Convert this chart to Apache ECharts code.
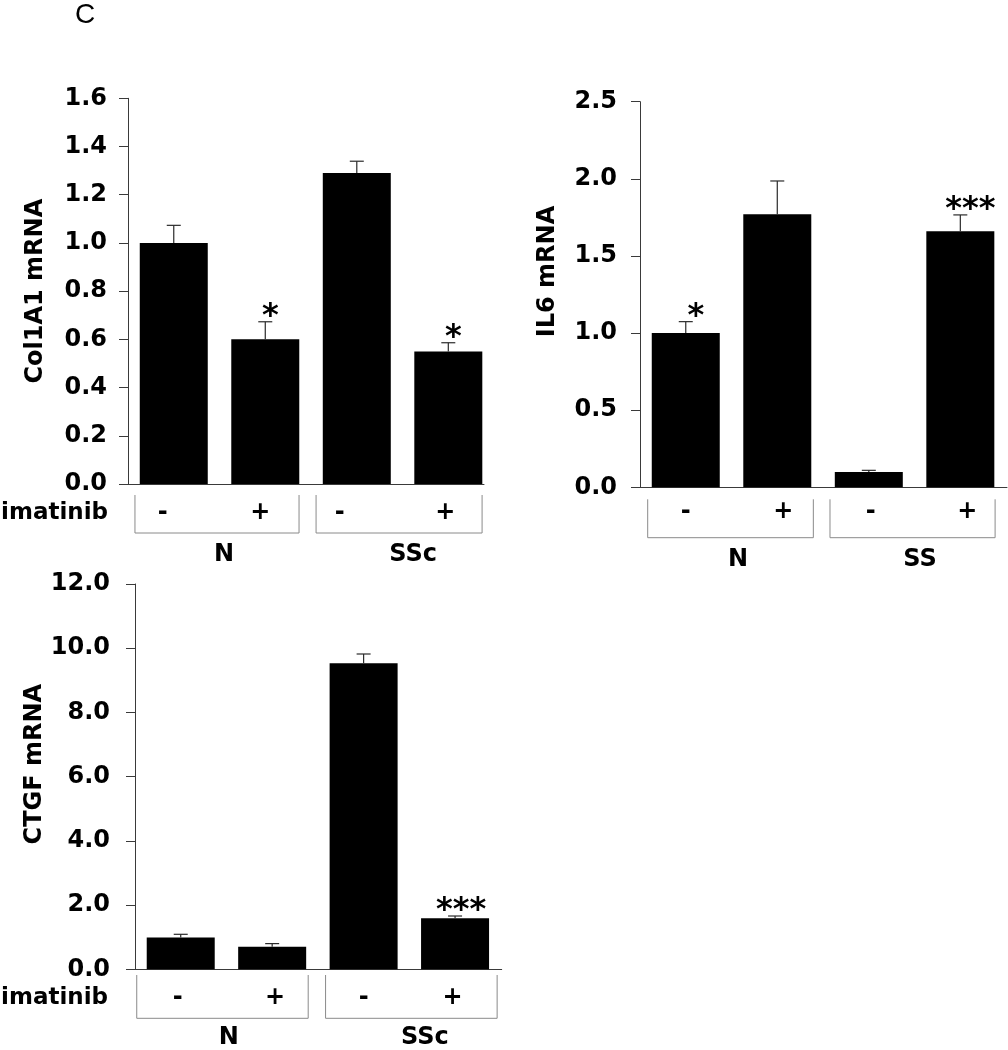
<!DOCTYPE html>
<html>
<head>
<meta charset="utf-8">
<script src="https://cdn.jsdelivr.net/npm/echarts@6/dist/echarts.min.js"></script>
<style>
html,body{margin:0;padding:0;background:#fff;}
#chart{width:1008px;height:1050px;}
</style>
</head>
<body>
<div id="chart"></div>
<script>
// ---------------- DATA ----------------
const treatment = ['-', '+', '-', '+'];          // imatinib
const groupsA = ['N', 'SSc'];
const groupsB = ['N', 'SS'];

const col1a1Values = [1.00, 0.60, 1.29, 0.55];
const col1a1Errors = [0.073, 0.073, 0.049, 0.036];
const col1a1Sig    = ['', '*', '', '*'];
const col1a1Ticks  = [0, 1.6, 0.2];             // min, max, interval

const il6Values = [1.00, 1.77, 0.10, 1.66];
const il6Errors = [0.074, 0.216, 0.010, 0.106];
const il6Sig    = ['*', '', '', '***'];
const il6Ticks  = [0, 2.5, 0.5];

const ctgfValues = [0.99, 0.70, 9.53, 1.59];
const ctgfErrors = [0.10, 0.10, 0.29, 0.07];
const ctgfSig    = ['', '', '', '***'];
const ctgfTicks  = [0, 12, 2];

// ---------------- LAYOUT ----------------
const FONT = 'DejaVu Sans';
const panels = [
  { name: 'Col1A1 mRNA', values: col1a1Values, errors: col1a1Errors, sig: col1a1Sig, ticks: col1a1Ticks, groups: groupsA,
    grid: { left: 128, top: 98.3, width: 356, height: 385.7 }, xMax: 3.39, labelMargin: 21, namePad: 0,
    starDx: 5, signDx: [-11, -5, -17, -3], signDy: 29, bracket: [[-0.424, 1.369], [1.555, 3.369]], bTop: 11, bBot: 49,
    groupX: [0.549, 2.615], groupDy: 71, imatinib: true, imatinibGap: 20 },
  { name: 'IL6 mRNA', values: il6Values, errors: il6Errors, sig: il6Sig, ticks: il6Ticks, groups: groupsB,
    grid: { left: 640, top: 101.7, width: 367, height: 385.6 }, xMax: 3.51, labelMargin: 23, namePad: 46,
    starDx: 10, signDx: [0, 6, 2, 7], signDy: 24.4, bracket: [[-0.416, 1.394], [1.576, 3.38]], bTop: 12, bBot: 50.4,
    groupX: [0.571, 2.56], groupDy: 72.7, imatinib: false },
  { name: 'CTGF mRNA', values: ctgfValues, errors: ctgfErrors, sig: ctgfSig, ticks: ctgfTicks, groups: groupsA,
    grid: { left: 135, top: 584, width: 366.7, height: 385.3 }, xMax: 3.51, labelMargin: 25, namePad: 25,
    starDx: 6, signDx: [-3, 3, 0, -2.5], signDy: 28.7, bracket: [[-0.481, 1.394], [1.584, 3.46]], bTop: 5.7, bBot: 49,
    groupX: [0.527, 2.67], groupDy: 68.7, imatinib: true, imatinibGap: 27 }
];

const axisColor = '#3a3a3a';
const grids = [], xAxes = [], yAxes = [], series = [];

panels.forEach((P, k) => {
  grids.push(Object.assign({ containLabel: false }, P.grid));
  xAxes.push({
    type: 'value', gridIndex: k, min: -0.5, max: P.xMax,
    axisLine: { show: true, onZero: false, lineStyle: { color: axisColor, width: 1 } },
    axisTick: { show: false }, axisLabel: { show: false }, splitLine: { show: false }
  });
  yAxes.push({
    type: 'value', gridIndex: k, min: P.ticks[0], max: P.ticks[1], interval: P.ticks[2],
    name: P.name, nameLocation: 'middle', nameRotate: 90, nameGap: 80,
    nameTextStyle: { fontFamily: FONT, fontWeight: 'bold', fontSize: 24, color: '#000', padding: [0, 0, 0, P.namePad] },
    axisLine: { show: true, onZero: false, lineStyle: { color: axisColor, width: 1 } },
    axisTick: { show: true, inside: false, length: 9, lineStyle: { color: axisColor, width: 1 } },
    axisLabel: { margin: P.labelMargin, fontFamily: FONT, fontWeight: 'bold', fontSize: 24, color: '#000',
      formatter: v => v.toFixed(1) },
    splitLine: { show: false }
  });

  series.push({
    type: 'bar', xAxisIndex: k, yAxisIndex: k, barWidth: 68,
    itemStyle: { color: '#000' },
    data: P.values.map((v, j) => [j, v])
  });

  series.push({
    type: 'custom', xAxisIndex: k, yAxisIndex: k, clip: false, z: 5,
    data: P.values.map((v, j) => [j, v, v + P.errors[j]]),
    encode: { x: 0, y: [1, 2] },
    renderItem: (params, api) => {
      const j = params.dataIndex;
      const p0 = api.coord([api.value(0), api.value(1)]);
      const p1 = api.coord([api.value(0), api.value(2)]);
      const st = { stroke: '#2a2a2a', lineWidth: 1.2 };
      const children = [
        { type: 'line', shape: { x1: p0[0], y1: p0[1], x2: p1[0], y2: p1[1] }, style: st },
        { type: 'line', shape: { x1: p1[0] - 7, y1: p1[1], x2: p1[0] + 7, y2: p1[1] }, style: st }
      ];
      if (P.sig[j]) {
        children.push({ type: 'text', style: { text: P.sig[j], x: p1[0] + P.starDx, y: p1[1] - 5,
          align: 'center', verticalAlign: 'middle', font: 'bold 32px "' + FONT + '"', fill: '#000' } });
      }
      return { type: 'group', children };
    }
  });

  series.push({
    type: 'custom', xAxisIndex: k, yAxisIndex: k, clip: false, silent: true,
    data: P.groups.map((g, i) => [i, 0]),
    encode: { x: 0, y: 1 },
    renderItem: (params, api) => {
      const i = params.dataIndex;
      const y0 = api.coord([0, 0])[1];
      const xl = api.coord([P.bracket[i][0], 0])[0];
      const xr = api.coord([P.bracket[i][1], 0])[0];
      const children = [{
        type: 'polyline',
        shape: { points: [[xl, y0 + P.bTop], [xl, y0 + P.bBot], [xr, y0 + P.bBot], [xr, y0 + P.bTop]] },
        style: { stroke: '#8a8a8a', lineWidth: 1, fill: null }
      }];
      [2 * i, 2 * i + 1].forEach(j => {
        children.push({ type: 'text', style: { text: treatment[j], x: api.coord([j, 0])[0] + P.signDx[j], y: y0 + P.signDy,
          align: 'center', verticalAlign: 'middle', font: 'bold 24px "' + FONT + '"', fill: '#000' } });
      });
      children.push({ type: 'text', style: { text: P.groups[i], x: api.coord([P.groupX[i], 0])[0], y: y0 + P.groupDy,
        align: 'center', verticalAlign: 'middle', font: 'bold 24px "' + FONT + '"', fill: '#000' } });
      if (i === 0 && P.imatinib) {
        children.push({ type: 'text', style: { text: 'imatinib', x: api.coord([-0.5, 0])[0] - P.imatinibGap, y: y0 + P.signDy,
          align: 'right', verticalAlign: 'middle', font: 'bold 23px "' + FONT + '"', fill: '#000' } });
      }
      return { type: 'group', children };
    }
  });
});

const chart = echarts.init(document.getElementById('chart'), null, { renderer: 'canvas' });
chart.setOption({
  backgroundColor: '#fff',
  animation: false,
  graphic: [{ type: 'text', left: 75, top: 1, style: { text: 'C', font: '28px "Liberation Sans"', fill: '#000' } }],
  grid: grids, xAxis: xAxes, yAxis: yAxes, series
});
</script>
</body>
</html>
